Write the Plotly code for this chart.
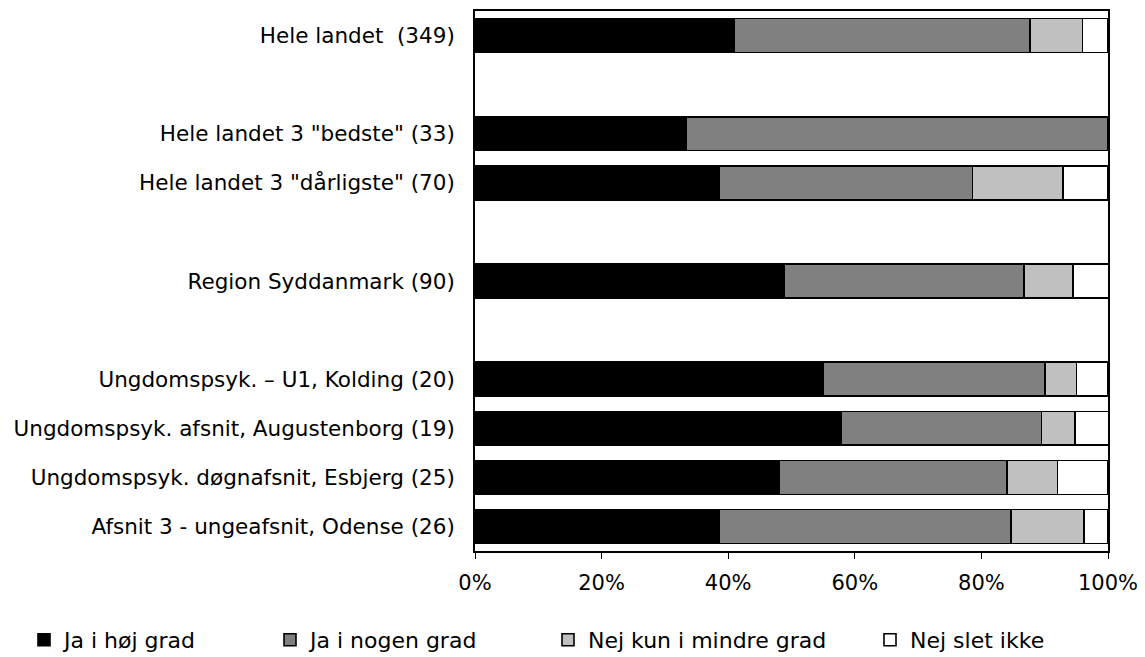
import plotly.graph_objects as go

categories = [
    "Hele landet  (349)",
    " ",
    'Hele landet 3 "bedste" (33)',
    'Hele landet 3 "dårligste" (70)',
    "  ",
    "Region Syddanmark (90)",
    "   ",
    "Ungdomspsyk. – U1, Kolding (20)",
    "Ungdomspsyk. afsnit, Augustenborg (19)",
    "Ungdomspsyk. døgnafsnit, Esbjerg (25)",
    "Afsnit 3 - ungeafsnit, Odense (26)",
]

series_names = ["Ja i høj grad", "Ja i nogen grad", "Nej kun i mindre grad", "Nej slet ikke"]

ja_hoej = [41.0, None, 33.3, 38.6, None, 48.9, None, 55.0, 57.9, 48.0, 38.5]
ja_nogen = [46.7, None, 66.7, 40.0, None, 37.8, None, 35.0, 31.6, 36.0, 46.2]
nej_mindre = [8.3, None, 0.0, 14.3, None, 7.8, None, 5.0, 5.3, 8.0, 11.5]
nej_slet = [4.0, None, 0.0, 7.1, None, 5.6, None, 5.0, 5.3, 8.0, 3.8]

series_values = [ja_hoej, ja_nogen, nej_mindre, nej_slet]
colors = ["#000000", "#808080", "#C0C0C0", "#FFFFFF"]

x_ticks = [0, 20, 40, 60, 80, 100]
x_ticklabels = ["0%", "20%", "40%", "60%", "80%", "100%"]

font_family = "DejaVu Sans, Verdana, sans-serif"

# page body has an 8px margin; figure is sized to fit the window
FIG_W, FIG_H, OFF = 1137, 649, 8

fig = go.Figure()
legend_names = ["legend", "legend2", "legend3", "legend4"]
for name, vals, col, lg in zip(series_names, series_values, colors, legend_names):
    fig.add_trace(go.Bar(
        y=categories, x=vals, name=name, orientation="h",
        marker=dict(color=col, line=dict(color="#000000", width=1.6)),
        legend=lg,
    ))

legend_text_x = [64, 310, 588, 910]
layout_legends = {}
for lg, tx in zip(legend_names, legend_text_x):
    layout_legends[lg] = dict(
        xref="container", yref="container",
        x=(tx - 40 - OFF) / FIG_W, y=1 - (640 - OFF) / FIG_H,
        xanchor="left", yanchor="middle", orientation="h",
        font=dict(family=font_family, size=22, color="#000000"),
        bgcolor="rgba(0,0,0,0)", itemwidth=30,
    )

fig.update_layout(
    width=FIG_W, height=FIG_H,
    barmode="stack", bargap=0.31,
    plot_bgcolor="#FFFFFF", paper_bgcolor="#FFFFFF",
    margin=dict(l=475 - OFF, r=37, t=9 - OFF, b=106),
    font=dict(family=font_family, size=21, color="#000000"),
    showlegend=True,
    **layout_legends,
)
fig.update_xaxes(
    range=[0, 100], tickvals=x_ticks, ticktext=x_ticklabels,
    showgrid=False, zeroline=False,
    showline=True, linecolor="#000000", linewidth=1.8, mirror=True,
    ticks="outside", ticklen=6, tickcolor="#000000", tickwidth=1,
    tickfont=dict(family=font_family, size=21, color="#000000"),
    ticklabelstandoff=6,
)
fig.update_yaxes(
    categoryorder="array", categoryarray=categories, autorange="reversed",
    showgrid=False, zeroline=False,
    showline=True, linecolor="#000000", linewidth=1.8, mirror=True,
    ticks="", ticklabelstandoff=14,
    tickfont=dict(family=font_family, size=21.5, color="#000000"),
)

fig.write_html("out.html")
